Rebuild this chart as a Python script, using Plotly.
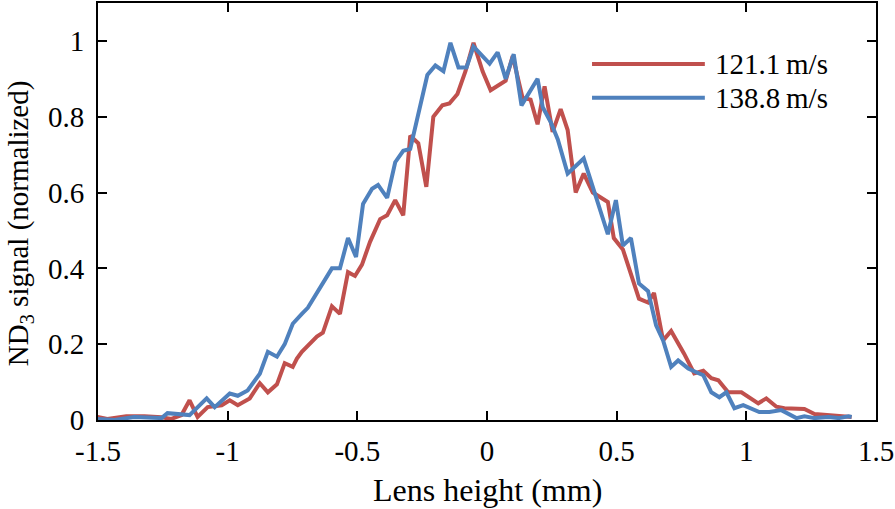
import plotly.graph_objects as go

# Lens height (mm) and normalized ND3 signal
x_red = [-1.503, -1.464, -1.391, -1.321, -1.255, -1.217, -1.178, -1.147, -1.116, -1.077,
         -1.023, -0.992, -0.961, -0.915, -0.876, -0.845, -0.810, -0.780, -0.749, -0.733,
         -0.714, -0.656, -0.633, -0.598, -0.567, -0.536, -0.509, -0.482, -0.451, -0.412,
         -0.385, -0.354, -0.323, -0.296, -0.265, -0.234, -0.207, -0.172, -0.145, -0.114,
         -0.083, -0.052, -0.017, 0.014, 0.072, 0.099, 0.137, 0.168, 0.195, 0.222,
         0.253, 0.284, 0.311, 0.342, 0.373, 0.408, 0.466, 0.489, 0.524, 0.586,
         0.621, 0.644, 0.679, 0.710, 0.760, 0.799, 0.834, 0.865, 0.892, 0.930,
         0.981, 1.046, 1.077, 1.116, 1.147, 1.224, 1.263, 1.340, 1.406]
y_red = [0.008, 0.003, 0.010, 0.010, 0.007, 0.003, 0.013, 0.052, 0.008, 0.034,
         0.039, 0.052, 0.039, 0.057, 0.097, 0.073, 0.094, 0.150, 0.140, 0.162,
         0.180, 0.220, 0.230, 0.300, 0.280, 0.390, 0.380, 0.410, 0.470, 0.530,
         0.540, 0.580, 0.540, 0.750, 0.730, 0.615, 0.800, 0.830, 0.835, 0.860,
         0.920, 0.995, 0.920, 0.870, 0.895, 0.960, 0.850, 0.845, 0.780, 0.880,
         0.760, 0.820, 0.765, 0.600, 0.650, 0.600, 0.575, 0.480, 0.450, 0.320,
         0.310, 0.335, 0.210, 0.235, 0.175, 0.123, 0.130, 0.110, 0.105, 0.073,
         0.073, 0.044, 0.057, 0.035, 0.031, 0.029, 0.016, 0.013, 0.008]

x_blue = [-1.503, -1.437, -1.360, -1.282, -1.255, -1.232, -1.193, -1.147, -1.081, -1.050,
          -0.992, -0.961, -0.923, -0.876, -0.845, -0.810, -0.780, -0.749, -0.714, -0.691,
          -0.598, -0.567, -0.536, -0.505, -0.478, -0.443, -0.420, -0.385, -0.354, -0.323,
          -0.296, -0.230, -0.199, -0.168, -0.141, -0.110, -0.079, -0.052, 0.010, 0.041,
          0.072, 0.103, 0.133, 0.195, 0.215, 0.246, 0.273, 0.311, 0.373, 0.427,
          0.466, 0.497, 0.524, 0.555, 0.586, 0.621, 0.652, 0.679, 0.710, 0.737,
          0.776, 0.807, 0.834, 0.865, 0.896, 0.923, 0.954, 0.988, 1.019, 1.050,
          1.089, 1.135, 1.193, 1.224, 1.263, 1.317, 1.356, 1.394, 1.406]
y_blue = [0.003, 0.000, 0.008, 0.005, 0.005, 0.018, 0.016, 0.013, 0.057, 0.034,
          0.070, 0.064, 0.078, 0.122, 0.180, 0.167, 0.200, 0.254, 0.280, 0.296,
          0.400, 0.400, 0.480, 0.430, 0.570, 0.610, 0.620, 0.586, 0.680, 0.710,
          0.715, 0.910, 0.935, 0.920, 0.995, 0.930, 0.930, 0.985, 0.940, 0.970,
          0.900, 0.965, 0.830, 0.900, 0.825, 0.785, 0.740, 0.650, 0.690, 0.570,
          0.490, 0.580, 0.460, 0.480, 0.360, 0.340, 0.250, 0.210, 0.140, 0.157,
          0.136, 0.126, 0.118, 0.073, 0.060, 0.073, 0.031, 0.039, 0.031, 0.021,
          0.021, 0.026, 0.005, 0.010, 0.005, 0.008, 0.005, 0.010, 0.008]

series_names = ["121.1\u2009m/s", "138.8\u2009m/s"]
series_colors = ["#C0504D", "#4F81BD"]

x_tickvals = [-1.5, -1, -0.5, 0, 0.5, 1, 1.5]
x_ticktext = ["-1.5", "-1", "-0.5", "0", "0.5", "1", "1.5"]
y_tickvals = [0, 0.2, 0.4, 0.6, 0.8, 1]
y_ticktext = ["0", "0.2", "0.4", "0.6", "0.8", "1"]

FONT = "Liberation Serif"
FS = 29

fig = go.Figure()
for xs, ys, nm, col in [(x_red, y_red, series_names[0], series_colors[0]),
                        (x_blue, y_blue, series_names[1], series_colors[1])]:
    fig.add_trace(go.Scatter(x=xs, y=ys, mode="lines", name=nm,
                             line=dict(color=col, width=4), showlegend=False))

axis_common = dict(showline=True, linecolor="black", linewidth=2, mirror="ticks",
                   ticks="inside", ticklen=9, tickwidth=2, tickcolor="black",
                   showgrid=False, zeroline=False,
                   tickfont=dict(family=FONT, size=FS, color="black"))

fig.update_xaxes(range=[-1.5, 1.5], tickvals=x_tickvals, ticktext=x_ticktext,
                 ticklabelstandoff=4, **axis_common)
fig.update_yaxes(range=[0, 1.1], tickvals=y_tickvals, ticktext=y_ticktext,
                 ticklabelstandoff=6, **axis_common)

# custom legend (long line samples)
leg_y = [0.854, 0.773]
for i in range(2):
    fig.add_shape(type="line", xref="paper", yref="paper", x0=0.635, x1=0.780,
                  y0=leg_y[i], y1=leg_y[i], line=dict(color=series_colors[i], width=4))
    fig.add_annotation(xref="paper", yref="paper", x=0.790, y=leg_y[i],
                       xanchor="left", yanchor="middle", showarrow=False,
                       text=series_names[i],
                       font=dict(family=FONT, size=FS, color="black"))

# axis titles
fig.add_annotation(xref="paper", yref="paper", x=0.5, y=-0.167, xanchor="center",
                   yanchor="middle", showarrow=False, text="Lens height (mm)",
                   font=dict(family=FONT, size=32, color="black"))
fig.add_annotation(xref="paper", yref="paper", x=-0.100, y=0.4725, xanchor="center",
                   yanchor="middle", showarrow=False, textangle=-90,
                   text="ND<sub>3</sub> signal (normalized)",
                   font=dict(family=FONT, size=29, color="black"))

fig.update_layout(width=895, height=509, margin=dict(l=98, r=19, t=1, b=89),
                  plot_bgcolor="white", paper_bgcolor="white",
                  font=dict(family=FONT, size=FS, color="black"))

fig.write_html("out.html", config={"displayModeBar": False},
               post_script="document.body.style.margin='0';document.body.style.overflow='hidden';")
